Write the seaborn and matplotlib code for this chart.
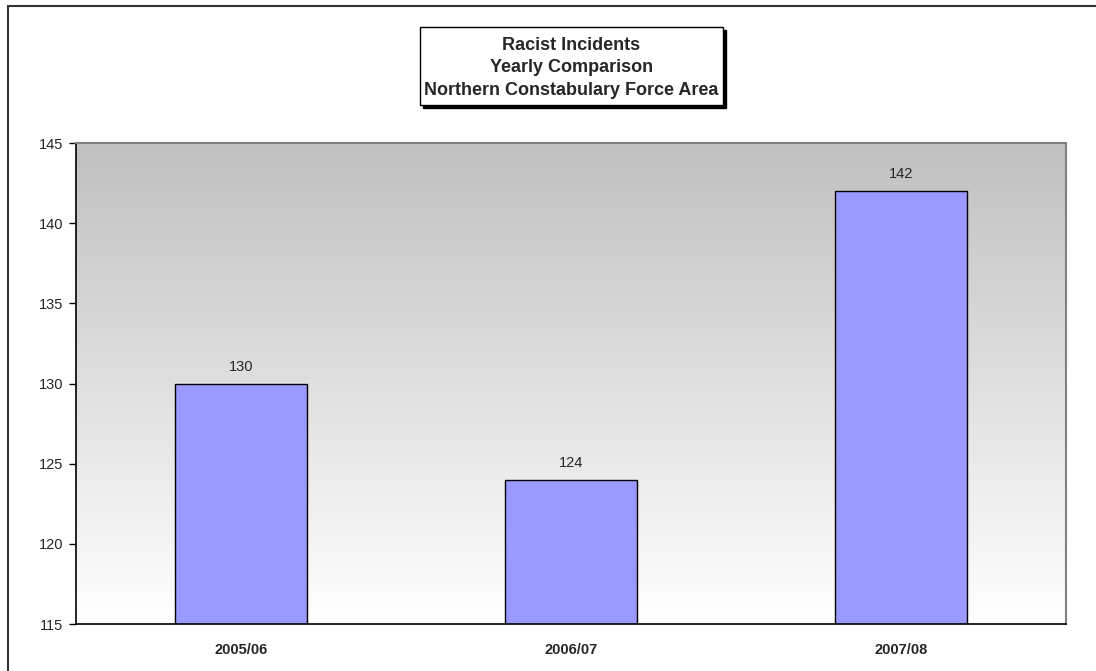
import numpy as np
import pandas as pd
import matplotlib
matplotlib.use("Agg")
import matplotlib.pyplot as plt
from matplotlib.patches import Rectangle
import seaborn as sns

# chart data
years = ["2005/06", "2006/07", "2007/08"]
incidents = [130, 124, 142]
yticks = [115, 120, 125, 130, 135, 140, 145]
title_lines = ["Racist Incidents", "Yearly Comparison", "Northern Constabulary Force Area"]

sns.set_style("white")
plt.rcParams['font.family'] = ['Liberation Sans', 'DejaVu Sans']

df = pd.DataFrame({"year": years, "count": incidents})

fig = plt.figure(figsize=(10.96, 6.71), dpi=100)
ax = fig.add_axes([76/1096, 47/671, 990/1096, 481/671])

# gradient background (grey at top, white at bottom)
grad = np.linspace(0, 1, 256).reshape(-1, 1)
cmap = matplotlib.colors.LinearSegmentedColormap.from_list("bg", ["#ffffff", "#c0c0c0"])
ax.imshow(grad, aspect="auto", cmap=cmap, origin="lower",
          extent=[0, 1, 0, 1], transform=ax.transAxes, zorder=0)

sns.barplot(data=df, x="year", y="count", color="#9999ff", edgecolor="black",
            linewidth=1.0, width=0.4, saturation=1, ax=ax, zorder=2)

ax.set_ylim(115, 145)
ax.set_xlim(-0.5, 2.5)
ax.set_yticks(yticks)
ax.set_yticklabels([str(t) for t in yticks], fontsize=10.5)
ax.set_xticks(range(len(years)))
ax.set_xticklabels(years, fontsize=10.5, fontweight="bold")
ax.tick_params(axis="x", which="major", length=0, pad=14)
ax.set_xticks([0.5, 1.5], minor=True)
ax.tick_params(axis="x", which="minor", length=5, width=1, color="black", direction="out")
ax.tick_params(axis="y", length=5, width=1, color="black", direction="out", pad=4, left=True)
ax.set_xlabel("")
ax.set_ylabel("")

for side in ["left", "bottom"]:
    ax.spines[side].set_color("black")
    ax.spines[side].set_linewidth(1.2)
for side in ["top", "right"]:
    ax.spines[side].set_color("#808080")
    ax.spines[side].set_linewidth(1.5)

for i, v in enumerate(incidents):
    ax.annotate(str(v), (i, v), xytext=(0, 7), textcoords="offset points",
                ha="center", va="bottom", fontsize=10.5)

# outer frame (left and top visible)
fig.patches.append(Rectangle((8/1096, -0.1), 1.2, 1 - 6/671 + 0.1, transform=fig.transFigure,
                             fill=False, edgecolor="#333333", linewidth=1.5))

# title box with shadow
bx, by, bw, bh = 420/1096, 1 - 105/671, 303/1096, 78/671
fig.patches.append(Rectangle((bx + 3/1096, by - 3/671), bw, bh, transform=fig.transFigure,
                             facecolor="black", edgecolor="black", zorder=5))
fig.patches.append(Rectangle((bx, by), bw, bh, transform=fig.transFigure,
                             facecolor="white", edgecolor="black", linewidth=1, zorder=6))
fig.text(bx + bw/2, by + bh/2 - 2/671, "\n".join(title_lines), ha="center", va="center",
         fontsize=13, fontweight="bold", linespacing=1.4, zorder=7)

fig.savefig("out.png", dpi=100)
